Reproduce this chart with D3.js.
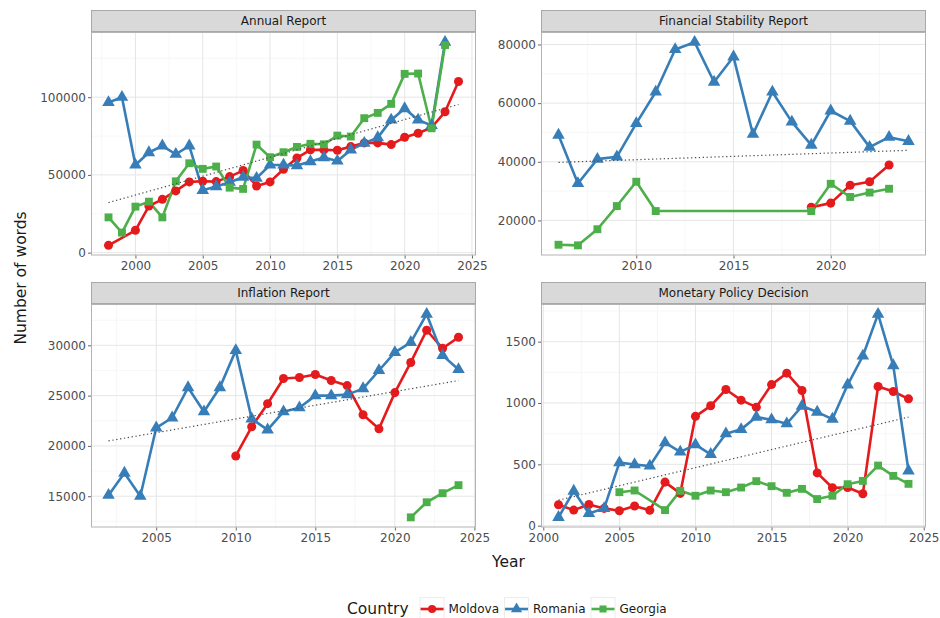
<!DOCTYPE html>
<html>
<head>
<meta charset="utf-8">
<script src="https://cdn.jsdelivr.net/npm/d3@7"></script>
<style>
  body { margin: 0; background: #fff; }
  svg { display: block; font-family: "DejaVu Sans", sans-serif; }
</style>
</head>
<body>
<script>
/* data: [year, number of words] */
const countries = ['Moldova', 'Romania', 'Georgia'];
const panelTitles = ['Annual Report', 'Financial Stability Report', 'Inflation Report', 'Monetary Policy Decision'];

const annualMoldova = [[1998,4700],[2000,14400],[2001,30000],[2002,34300],[2003,39700],[2004,45500],[2005,45900],[2006,45700],[2007,48900],[2008,52800],[2009,42900],[2010,45500],[2011,53600],[2012,60900],[2013,66100],[2014,66100],[2015,65900],[2016,68200],[2017,70600],[2018,70600],[2019,69500],[2020,74200],[2021,76800],[2022,80500],[2023,90600],[2024,110100]];
const annualRomania = [[1998,96600],[1999,100000],[2000,56400],[2001,64400],[2002,68700],[2003,63300],[2004,68700],[2005,40100],[2006,42500],[2007,45300],[2008,48500],[2009,47900],[2010,56400],[2011,56400],[2012,56000],[2013,58600],[2014,61200],[2015,59000],[2016,66100],[2017,70400],[2018,74000],[2019,85400],[2020,92700],[2021,85400],[2022,81800],[2023,135400]];
const annualGeorgia = [[1998,22700],[1999,12900],[2000,29600],[2001,32800],[2002,22700],[2003,45900],[2004,57500],[2005,53900],[2006,55400],[2007,41800],[2008,41000],[2009,69500],[2010,61400],[2011,64600],[2012,68000],[2013,70000],[2014,69700],[2015,75300],[2016,74700],[2017,86500],[2018,89900],[2019,95700],[2020,115000],[2021,115200],[2022,80000],[2023,133500]];
const annualTrend = [[1998,32200],[2024,95300]];

const fsrMoldova = [[2019,24500],[2020,25900],[2021,32000],[2022,33200],[2023,38900]];
const fsrRomania = [[2006,49100],[2007,32600],[2008,40900],[2009,41700],[2010,53100],[2011,63800],[2012,78300],[2013,80800],[2014,67200],[2015,75800],[2016,49400],[2017,63800],[2018,53600],[2019,45700],[2020,57400],[2021,53900],[2022,45000],[2023,48400],[2024,47000]];
const fsrGeorgia = [[2006,11700],[2007,11500],[2008,17000],[2009,24900],[2010,33200],[2011,23200],[2019,23200],[2020,32500],[2021,28000],[2022,29500],[2023,30800]];
const fsrTrend = [[2006,39800],[2024,43900]];

const inflMoldova = [[2010,19000],[2011,21900],[2012,24200],[2013,26700],[2014,26800],[2015,27100],[2016,26500],[2017,26000],[2018,23100],[2019,21700],[2020,25300],[2021,28300],[2022,31500],[2023,29700],[2024,30800]];
const inflRomania = [[2002,15100],[2003,17300],[2004,15000],[2005,21800],[2006,22800],[2007,25800],[2008,23400],[2009,25800],[2010,29500],[2011,22700],[2012,21600],[2013,23400],[2014,23800],[2015,25000],[2016,25000],[2017,25100],[2018,25700],[2019,27500],[2020,29300],[2021,30300],[2022,33100],[2023,29000],[2024,27600]];
const inflGeorgia = [[2021,12900],[2022,14400],[2023,15300],[2024,16100]];
const inflTrend = [[2002,20500],[2024,26500]];

const mpdMoldova = [[2001,171],[2002,127],[2003,173],[2004,141],[2005,122],[2006,160],[2007,125],[2008,355],[2009,263],[2010,891],[2011,977],[2012,1110],[2013,1023],[2014,966],[2015,1150],[2016,1243],[2017,1102],[2018,430],[2019,309],[2020,311],[2021,260],[2022,1134],[2023,1094],[2024,1034]];
const mpdRomania = [[2001,68],[2002,282],[2003,100],[2004,141],[2005,514],[2006,498],[2007,487],[2008,677],[2009,601],[2010,660],[2011,582],[2012,750],[2013,785],[2014,885],[2015,864],[2016,831],[2017,975],[2018,926],[2019,869],[2020,1148],[2021,1383],[2022,1724],[2023,1305],[2024,447]];
const mpdGeorgia = [[2005,273],[2006,287],[2008,127],[2009,284],[2010,244],[2011,287],[2012,273],[2013,311],[2014,363],[2015,322],[2016,268],[2017,300],[2018,217],[2019,244],[2020,338],[2021,365],[2022,490],[2023,406],[2024,341]];
const mpdTrend = [[2001,208],[2024,885]];

// tick labels
const annualXTicks = [2000, 2005, 2010, 2015, 2020, 2025], annualYTicks = [0, 50000, 100000];
const fsrXTicks = [2010, 2015, 2020], fsrYTicks = [20000, 40000, 60000, 80000];
const inflXTicks = [2005, 2010, 2015, 2020, 2025], inflYTicks = [15000, 20000, 25000, 30000];
const mpdXTicks = [2000, 2005, 2010, 2015, 2020, 2025], mpdYTicks = [0, 500, 1000, 1500];

/* styles */
const colors = { Moldova: '#e41a1c', Romania: '#377eb8', Georgia: '#4daf4a' };
const shapes = { Moldova: d3.symbolCircle, Romania: d3.symbolTriangle, Georgia: d3.symbolSquare };
const shapeSize = { Moldova: 64, Romania: 68, Georgia: 62 };

const panels = [
  { title: panelTitles[0], series: [annualMoldova, annualRomania, annualGeorgia], trend: annualTrend, xTicks: annualXTicks, yTicks: annualYTicks },
  { title: panelTitles[1], series: [fsrMoldova, fsrRomania, fsrGeorgia], trend: fsrTrend, xTicks: fsrXTicks, yTicks: fsrYTicks },
  { title: panelTitles[2], series: [inflMoldova, inflRomania, inflGeorgia], trend: inflTrend, xTicks: inflXTicks, yTicks: inflYTicks },
  { title: panelTitles[3], series: [mpdMoldova, mpdRomania, mpdGeorgia], trend: mpdTrend, xTicks: mpdXTicks, yTicks: mpdYTicks }
];

const width = 940, height = 618;
const colX = [91, 541], panelW = 385;
const rowY = [10, 282], stripH = 22, panelH = 223.5;

const svg = d3.select('body').append('svg')
  .attr('width', width)
  .attr('height', height);

// ggplot-like 5% expansion
const expand = ext => {
  const d = ext[1] - ext[0];
  return [ext[0] - 0.05 * d, ext[1] + 0.05 * d];
};
// minor breaks halfway between majors, kept inside the limits
const minorBreaks = (ticks, dom) => {
  const step = ticks[1] - ticks[0];
  const ext = [ticks[0] - step, ...ticks, ticks[ticks.length - 1] + step];
  return d3.pairs(ext).map(([a, b]) => (a + b) / 2).filter(v => v >= dom[0] && v <= dom[1]);
};

panels.forEach((p, i) => {
  const left = colX[i % 2];
  const stripTop = rowY[Math.floor(i / 2)];
  const top = stripTop + stripH;

  const all = p.series.flat();
  const xDom = expand(d3.extent(all, d => d[0]));
  const yDom = expand(d3.extent(all, d => d[1]));
  const x = d3.scaleLinear().domain(xDom).range([0, panelW]);
  const y = d3.scaleLinear().domain(yDom).range([panelH, 0]);

  const g = svg.append('g').attr('transform', `translate(${left},${top})`);

  g.append('rect')
    .attr('width', panelW).attr('height', panelH)
    .attr('fill', '#fff');

  // grid
  const grid = g.append('g');
  grid.selectAll('.vminor').data(minorBreaks(p.xTicks, xDom)).enter().append('line')
    .attr('x1', d => x(d)).attr('x2', d => x(d)).attr('y1', 0).attr('y2', panelH)
    .attr('stroke', '#f3f3f3').attr('stroke-width', 0.7);
  grid.selectAll('.hminor').data(minorBreaks(p.yTicks, yDom)).enter().append('line')
    .attr('y1', d => y(d)).attr('y2', d => y(d)).attr('x1', 0).attr('x2', panelW)
    .attr('stroke', '#f3f3f3').attr('stroke-width', 0.7);
  grid.selectAll('.vmajor').data(p.xTicks.filter(t => t >= xDom[0] && t <= xDom[1])).enter().append('line')
    .attr('x1', d => x(d)).attr('x2', d => x(d)).attr('y1', 0).attr('y2', panelH)
    .attr('stroke', '#e6e6e6').attr('stroke-width', 1);
  grid.selectAll('.hmajor').data(p.yTicks).enter().append('line')
    .attr('y1', d => y(d)).attr('y2', d => y(d)).attr('x1', 0).attr('x2', panelW)
    .attr('stroke', '#e6e6e6').attr('stroke-width', 1);

  const line = d3.line().x(d => x(d[0])).y(d => y(d[1]));

  // lines, then points (ggplot draws layer by layer)
  p.series.forEach((s, k) => {
    g.append('path')
      .datum(s)
      .attr('d', line)
      .attr('fill', 'none')
      .attr('stroke', colors[countries[k]])
      .attr('stroke-width', 2.6)
      .attr('stroke-linejoin', 'round');
  });
  p.series.forEach((s, k) => {
    const c = countries[k];
    g.selectAll(null).data(s).enter().append('path')
      .attr('transform', d => `translate(${x(d[0])},${y(d[1])})`)
      .attr('d', d3.symbol().type(shapes[c]).size(shapeSize[c]))
      .attr('fill', colors[c]);
  });

  // dotted trend
  g.append('path')
    .datum(p.trend)
    .attr('d', line)
    .attr('fill', 'none')
    .attr('stroke', '#4d4d4d')
    .attr('stroke-width', 1.2)
    .attr('stroke-dasharray', '1.3,2.6');

  g.append('rect')
    .attr('x', 0.5).attr('y', 0.5)
    .attr('width', panelW - 1).attr('height', panelH - 1)
    .attr('fill', 'none')
    .attr('stroke', '#b3b3b3');

  // strip
  const strip = svg.append('g').attr('transform', `translate(${left},${stripTop})`);
  strip.append('rect')
    .attr('x', 0.5).attr('y', 0.5)
    .attr('width', panelW - 1).attr('height', stripH - 1)
    .attr('fill', '#d9d9d9')
    .attr('stroke', '#a8a8a8');
  strip.append('text')
    .attr('x', panelW / 2).attr('y', stripH / 2)
    .attr('dy', '0.35em')
    .attr('text-anchor', 'middle')
    .attr('font-size', 12)
    .attr('fill', '#1a1a1a')
    .text(p.title);

  // axes
  const xAxis = g.append('g')
    .attr('transform', `translate(0,${panelH})`)
    .call(d3.axisBottom(x).tickValues(p.xTicks).tickSize(3).tickPadding(3).tickFormat(d3.format('d')));
  const yAxis = g.append('g')
    .call(d3.axisLeft(y).tickValues(p.yTicks).tickSize(3).tickPadding(2).tickFormat(d3.format('d')));
  [xAxis, yAxis].forEach(a => {
    a.select('.domain').remove();
    a.selectAll('line').attr('stroke', '#666');
    a.selectAll('text')
      .attr('fill', '#4d4d4d')
      .attr('font-size', 12)
      .attr('font-family', '"DejaVu Sans", sans-serif');
  });
});

/* axis titles */
svg.append('text')
  .attr('x', 508.5).attr('y', 567)
  .attr('text-anchor', 'middle')
  .attr('font-size', 15.5)
  .attr('fill', '#1a1a1a')
  .text('Year');

svg.append('text')
  .attr('transform', 'translate(26,278) rotate(-90)')
  .attr('text-anchor', 'middle')
  .attr('font-size', 15.5)
  .attr('fill', '#1a1a1a')
  .text('Number of words');

/* legend */
const legend = svg.append('g').attr('transform', 'translate(347,609)');
const legTitle = legend.append('text')
  .attr('dy', '0.35em')
  .attr('font-size', 15.5)
  .attr('fill', '#1a1a1a')
  .text('Country');

let lx = legTitle.node().getComputedTextLength() + 11;
countries.forEach(c => {
  const key = legend.append('g').attr('transform', `translate(${lx},0)`);
  key.append('rect')
    .attr('x', 0.5).attr('y', -11.5)
    .attr('width', 24).attr('height', 23)
    .attr('fill', '#fff')
    .attr('stroke', '#ececec');
  key.append('line')
    .attr('x1', 1).attr('x2', 24)
    .attr('stroke', colors[c])
    .attr('stroke-width', 2.6);
  key.append('path')
    .attr('transform', 'translate(12.5,0)')
    .attr('d', d3.symbol().type(shapes[c]).size(shapeSize[c] * 0.8))
    .attr('fill', colors[c]);
  const t = key.append('text')
    .attr('x', 29)
    .attr('dy', '0.35em')
    .attr('font-size', 12)
    .attr('fill', '#1a1a1a')
    .text(c);
  lx += 29 + t.node().getComputedTextLength() + 5;
});
</script>
</body>
</html>
